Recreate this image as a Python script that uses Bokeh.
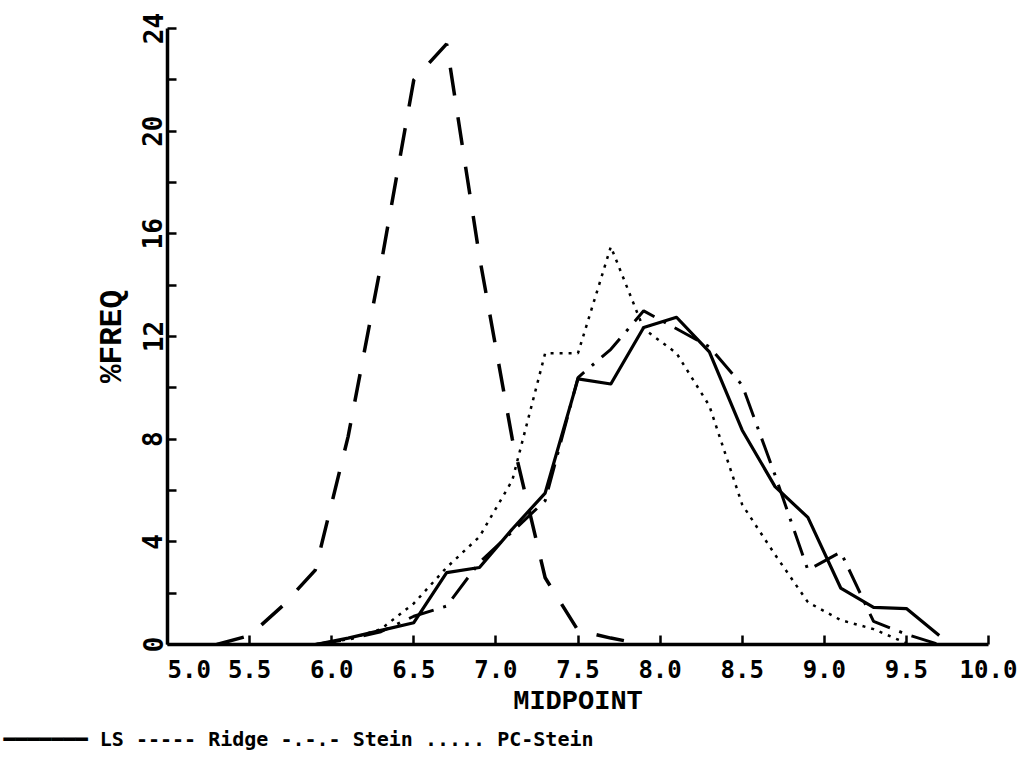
from bokeh.plotting import figure
from bokeh.models import Range1d, FixedTicker, Title, NumeralTickFormatter
from bokeh.embed import file_html
from bokeh.resources import INLINE

# ---- data ----
ls_mid = [5.9, 6.1, 6.3, 6.5, 6.7, 6.9, 7.1, 7.3, 7.5, 7.7, 7.9, 8.1, 8.3, 8.5, 8.7, 8.9, 9.1, 9.3, 9.5, 9.7]
ls_freq = [0.0, 0.25, 0.55, 0.85, 2.8, 3.0, 4.5, 5.9, 10.35, 10.15, 12.35, 12.75, 11.4, 8.35, 6.15, 4.95, 2.2, 1.45, 1.4, 0.35]

ridge_mid = [5.3, 5.5, 5.7, 5.9, 6.1, 6.3, 6.5, 6.7, 6.9, 7.1, 7.3, 7.5, 7.7, 7.9]
ridge_freq = [0.0, 0.35, 1.5, 2.9, 8.1, 14.8, 22.0, 23.4, 15.1, 8.0, 2.6, 0.55, 0.25, 0.0]

stein_mid = [5.9, 6.1, 6.3, 6.5, 6.7, 6.9, 7.1, 7.3, 7.5, 7.7, 7.9, 8.1, 8.3, 8.5, 8.7, 8.9, 9.1, 9.3, 9.5, 9.7]
stein_freq = [0.0, 0.2, 0.5, 1.1, 1.5, 3.2, 4.4, 5.6, 10.4, 11.5, 13.0, 12.3, 11.6, 10.1, 6.6, 2.9, 3.6, 0.9, 0.4, 0.0]

pcstein_mid = [5.9, 6.1, 6.3, 6.5, 6.7, 6.9, 7.1, 7.3, 7.5, 7.7, 7.9, 8.1, 8.3, 8.5, 8.7, 8.9, 9.1, 9.3, 9.5]
pcstein_freq = [0.0, 0.2, 0.6, 1.6, 3.0, 4.2, 6.4, 11.35, 11.35, 15.5, 12.3, 11.35, 9.3, 5.45, 3.5, 1.65, 0.95, 0.6, 0.05]

x_ticks = [5.0, 5.5, 6.0, 6.5, 7.0, 7.5, 8.0, 8.5, 9.0, 9.5, 10.0]
y_ticks = [0, 4, 8, 12, 16, 20, 24]
y_minor = [2, 6, 10, 14, 18, 22]

x_title = "MIDPOINT"
y_title = "%FREQ"
legend_text = "━━━━━━━ LS ----- Ridge -.-.- Stein ..... PC-Stein"

INK = "#000000"
TICK_FONT = "DejaVu Sans Mono"
TITLE_FONT = "Liberation Mono"

p = figure(width=1020, height=766, output_backend="svg", toolbar_location=None,
           x_range=Range1d(5.0, 10.0), y_range=Range1d(0, 24),
           min_border_left=167, min_border_right=32, min_border_top=28, min_border_bottom=122,
           background_fill_color="white", border_fill_color="white")
p.outline_line_color = None
p.xgrid.visible = False
p.ygrid.visible = False

# axes
for ax in (p.xaxis[0], p.yaxis[0]):
    ax.axis_line_width = 3.5
    ax.axis_line_color = INK
    ax.major_tick_in = 9
    ax.major_tick_out = 0
    ax.major_tick_line_width = 2.5
    ax.major_tick_line_color = INK
    ax.minor_tick_in = 9
    ax.minor_tick_out = 0
    ax.minor_tick_line_width = 2.5
    ax.minor_tick_line_color = INK
    ax.major_label_text_font = TICK_FONT
    ax.major_label_text_font_style = "bold"
    ax.major_label_text_color = INK
    ax.axis_label_text_font = TITLE_FONT
    ax.axis_label_text_font_style = "bold"
    ax.axis_label_text_color = INK

p.xaxis.ticker = FixedTicker(ticks=x_ticks, minor_ticks=[])
p.xaxis.formatter = NumeralTickFormatter(format="0.0")
# the first label sits a little right of the y axis in the original
p.xaxis.major_label_overrides = {5: "\u00a0\u00a0\u00a05.0"}
p.xaxis.major_label_text_font_size = "24px"
p.xaxis.major_label_standoff = 11
p.xaxis.axis_label = x_title
p.xaxis.axis_label_text_font_size = "27px"
p.xaxis.axis_label_standoff = 0

p.yaxis.ticker = FixedTicker(ticks=y_ticks, minor_ticks=y_minor)
p.yaxis.major_label_orientation = "vertical"
p.yaxis.major_label_text_font_size = "26px"
p.yaxis.major_label_standoff = 5
p.yaxis.axis_label = y_title
p.yaxis.axis_label_text_font_size = "31px"
p.yaxis.axis_label_standoff = 10

# series
p.line(ls_mid, ls_freq, line_color=INK, line_width=3.2, line_join="round")
p.line(ridge_mid, ridge_freq, line_color=INK, line_width=3.5, line_dash="28 22")
p.line(stein_mid, stein_freq, line_color=INK, line_width=3, line_dash="26 10 3 10")
p.line(pcstein_mid, pcstein_freq, line_color=INK, line_width=2.5, line_dash="3 6")

# legend line below the chart
legend = Title(text=legend_text, align="left", offset=-164, standoff=10,
               text_font=TICK_FONT, text_font_style="bold", text_font_size="20px",
               text_color=INK)
p.add_layout(legend, "below")

open("out.html", "w").write(file_html(p, INLINE))
